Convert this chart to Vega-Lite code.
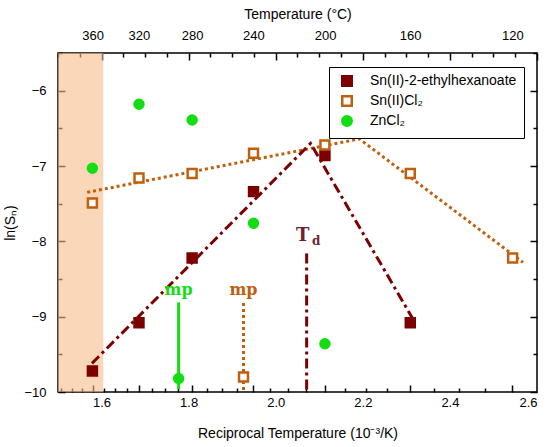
{
  "$schema": "https://vega.github.io/schema/vega-lite/v6.json",
  "width": 479,
  "height": 339,
  "autosize": {"type": "none"},
  "padding": {"left": 58, "top": 53, "right": 13, "bottom": 55},
  "background": "white",
  "datasets": {
    "points": [
      {"series": "Sn(II)-2-ethylhexanoate", "x": 1.579, "y": -9.72},
      {"series": "Sn(II)-2-ethylhexanoate", "x": 1.686, "y": -9.08},
      {"series": "Sn(II)-2-ethylhexanoate", "x": 1.808, "y": -8.22},
      {"series": "Sn(II)-2-ethylhexanoate", "x": 1.949, "y": -7.34},
      {"series": "Sn(II)-2-ethylhexanoate", "x": 2.113, "y": -6.86},
      {"series": "Sn(II)-2-ethylhexanoate", "x": 2.309, "y": -9.08},
      {"series": "Sn(II)Cl₂", "x": 1.579, "y": -7.49},
      {"series": "Sn(II)Cl₂", "x": 1.686, "y": -7.16},
      {"series": "Sn(II)Cl₂", "x": 1.808, "y": -7.10},
      {"series": "Sn(II)Cl₂", "x": 1.949, "y": -6.83},
      {"series": "Sn(II)Cl₂", "x": 2.113, "y": -6.72},
      {"series": "Sn(II)Cl₂", "x": 2.309, "y": -7.10},
      {"series": "Sn(II)Cl₂", "x": 2.544, "y": -8.22},
      {"series": "Sn(II)Cl₂", "x": 1.926, "y": -9.80},
      {"series": "ZnCl₂", "x": 1.579, "y": -7.03},
      {"series": "ZnCl₂", "x": 1.686, "y": -6.18},
      {"series": "ZnCl₂", "x": 1.808, "y": -6.39},
      {"series": "ZnCl₂", "x": 1.949, "y": -7.76},
      {"series": "ZnCl₂", "x": 2.113, "y": -9.36},
      {"series": "ZnCl₂", "x": 1.777, "y": -9.82}
    ],
    "fitlines": [
      {"series": "Sn(II)Cl₂", "x": 1.567, "y": -7.35},
      {"series": "Sn(II)Cl₂", "x": 2.192, "y": -6.64},
      {"series": "Sn(II)Cl₂", "x": 2.568, "y": -8.28},
      {"series": "Sn(II)-2-ethylhexanoate", "x": 1.578, "y": -9.62},
      {"series": "Sn(II)-2-ethylhexanoate", "x": 2.080, "y": -6.70},
      {"series": "Sn(II)-2-ethylhexanoate", "x": 2.316, "y": -9.04}
    ],
    "markers": [
      {"name": "Td", "x": 2.071, "y": -8.16, "y2": -10},
      {"name": "mpZn", "x": 1.777, "y": -8.81, "y2": -9.96},
      {"name": "mpSn", "x": 1.926, "y": -8.82, "y2": -10}
    ],
    "notes": [
      {"name": "mpZn", "label": "mp", "x": 1.777, "y": -8.65},
      {"name": "mpSn", "label": "mp", "x": 1.926, "y": -8.65},
      {"name": "T", "label": "T", "x": 2.062, "y": -7.93},
      {"name": "d", "label": "d", "x": 2.093, "y": -7.99}
    ],
    "frame": [{"from": 1.5, "to": 1.604, "low": -10, "high": -5.5}]
  },
  "layer": [
    {
      "data": {"name": "frame"},
      "mark": {"type": "rect", "color": "#f7bc8a", "opacity": 0.6},
      "encoding": {
        "x": {
          "field": "from",
          "type": "quantitative",
          "scale": {"domain": [1.5, 2.6], "nice": false, "zero": false},
          "axis": {
            "orient": "top",
            "title": "Temperature (°C)",
            "titleFontWeight": "normal",
            "values": [2.54356, 2.48047, 2.42043, 2.36323, 2.30867, 2.25657, 2.20677, 2.15913, 2.11349, 2.06975, 2.02778, 1.98748, 1.94875, 1.9115, 1.87565, 1.84111, 1.80783, 1.77572, 1.74474, 1.71482, 1.68591, 1.65796, 1.63092, 1.60475, 1.5794, 1.55485, 1.53104, 1.50795],
            "labelExpr": "round(1000 / datum.value - 273.15) % 40 == 0 ? format(round(1000 / datum.value - 273.15), 'd') : ''",
            "domain": false,
            "ticks": false,
            "tickSize": 0,
            "grid": true,
            "gridColor": "#000000",
            "gridWidth": 1.5,
            "gridDash": {"condition": {"test": "round(1000 / datum.value - 273.15) % 40 == 0", "value": [7, 2000]}, "value": [4, 2000]},
            "labelPadding": 11,
            "titlePadding": 8
          }
        },
        "x2": {"field": "to"},
        "y": {
          "field": "low",
          "type": "quantitative",
          "scale": {"domain": [-10, -5.5], "nice": false, "zero": false},
          "axis": {
            "orient": "right",
            "title": null,
            "labels": false,
            "domain": false,
            "ticks": false,
            "tickSize": 0,
            "values": [-10, -9.5, -9, -8.5, -8, -7.5, -7, -6.5, -6, -5.5],
            "grid": true,
            "gridColor": "#000000",
            "gridWidth": 1.5,
            "gridDash": {"condition": {"test": "datum.value % 1 == 0", "value": [7, 2000]}, "value": [4, 2000]}
          }
        },
        "y2": {"field": "high"}
      }
    },
    {
      "data": {"name": "fitlines"},
      "transform": [{"filter": "datum.series == 'Sn(II)Cl₂'"}],
      "mark": {"type": "line", "color": "#c0600e", "strokeWidth": 3, "strokeDash": [3, 3]},
      "encoding": {
        "x": {
          "field": "x",
          "type": "quantitative",
          "scale": {"domain": [1.5, 2.6], "nice": false, "zero": false},
          "axis": {
            "orient": "bottom",
            "title": "Reciprocal Temperature (10⁻³/K)",
            "titleFontWeight": "normal",
            "values": [1.5, 1.55, 1.6, 1.65, 1.7, 1.75, 1.8, 1.85, 1.9, 1.95, 2.0, 2.05, 2.1, 2.15, 2.2, 2.25, 2.3, 2.35, 2.4, 2.45, 2.5, 2.55, 2.6],
            "labelExpr": "abs(datum.value * 5 - round(datum.value * 5)) < 0.001 ? format(datum.value, '.1f') : ''",
            "domain": false,
            "ticks": false,
            "tickSize": 0,
            "grid": true,
            "gridColor": "#000000",
            "gridWidth": 1.5,
            "gridDash": {"condition": {"test": "abs(datum.value * 5 - round(datum.value * 5)) < 0.001", "value": [7, 2000]}, "value": [4, 2000]},
            "labelPadding": 4,
            "titlePadding": 17
          }
        },
        "y": {
          "field": "y",
          "type": "quantitative",
          "scale": {"domain": [-10, -5.5], "nice": false, "zero": false},
          "axis": {
            "orient": "left",
            "title": "ln(Sₙ)",
            "titleFontWeight": "normal",
            "values": [-10, -9.5, -9, -8.5, -8, -7.5, -7, -6.5, -6, -5.5],
            "labelExpr": "datum.value % 1 == 0 ? format(datum.value, 'd') : ''",
            "domain": false,
            "ticks": false,
            "tickSize": 0,
            "grid": true,
            "gridColor": "#000000",
            "gridWidth": 1.5,
            "gridDash": {"condition": {"test": "datum.value % 1 == 0", "value": [7, 2000]}, "value": [4, 2000]},
            "labelPadding": 12,
            "titlePadding": 6
          }
        }
      }
    },
    {
      "data": {"name": "fitlines"},
      "transform": [{"filter": "datum.series == 'Sn(II)-2-ethylhexanoate'"}],
      "mark": {"type": "line", "color": "#7d0000", "strokeWidth": 3, "strokeDash": [10, 4, 3, 4]},
      "encoding": {
        "x": {"field": "x", "type": "quantitative", "scale": {"domain": [1.5, 2.6], "nice": false, "zero": false}, "axis": null},
        "y": {"field": "y", "type": "quantitative", "scale": {"domain": [-10, -5.5], "nice": false, "zero": false}, "axis": null}
      }
    },
    {
      "data": {"name": "markers"},
      "transform": [{"filter": "datum.name == 'Td'"}],
      "mark": {"type": "rule", "color": "#7d0000", "strokeWidth": 3, "strokeDash": [10, 4, 3, 4]},
      "encoding": {
        "x": {"field": "x", "type": "quantitative", "scale": {"domain": [1.5, 2.6], "nice": false, "zero": false}, "axis": null},
        "y": {"field": "y", "type": "quantitative", "scale": {"domain": [-10, -5.5], "nice": false, "zero": false}, "axis": null},
        "y2": {"field": "y2"}
      }
    },
    {
      "data": {"name": "markers"},
      "transform": [{"filter": "datum.name == 'mpZn'"}],
      "mark": {"type": "rule", "color": "#13dd13", "strokeWidth": 3},
      "encoding": {
        "x": {"field": "x", "type": "quantitative", "scale": {"domain": [1.5, 2.6], "nice": false, "zero": false}, "axis": null},
        "y": {"field": "y", "type": "quantitative", "scale": {"domain": [-10, -5.5], "nice": false, "zero": false}, "axis": null},
        "y2": {"field": "y2"}
      }
    },
    {
      "data": {"name": "markers"},
      "transform": [{"filter": "datum.name == 'mpSn'"}],
      "mark": {"type": "rule", "color": "#c0600e", "strokeWidth": 3, "strokeDash": [3, 3]},
      "encoding": {
        "x": {"field": "x", "type": "quantitative", "scale": {"domain": [1.5, 2.6], "nice": false, "zero": false}, "axis": null},
        "y": {"field": "y", "type": "quantitative", "scale": {"domain": [-10, -5.5], "nice": false, "zero": false}, "axis": null},
        "y2": {"field": "y2"}
      }
    },
    {
      "data": {"name": "points"},
      "mark": {"type": "point", "size": 80, "strokeWidth": 2.5, "opacity": 1, "fillOpacity": 1},
      "encoding": {
        "x": {"field": "x", "type": "quantitative", "scale": {"domain": [1.5, 2.6], "nice": false, "zero": false}, "axis": null},
        "y": {"field": "y", "type": "quantitative", "scale": {"domain": [-10, -5.5], "nice": false, "zero": false}, "axis": null},
        "fill": {
          "field": "series",
          "type": "nominal",
          "scale": {"domain": ["Sn(II)-2-ethylhexanoate", "Sn(II)Cl₂", "ZnCl₂"], "range": ["#7d0000", "#ffffff", "#13dd13"]},
          "legend": {
            "title": null,
            "orient": "none",
            "legendX": 271,
            "legendY": 14,
            "padding": 7,
            "symbolOffset": 4,
            "strokeColor": "#000000",
            "fillColor": "#ffffff",
            "labelFontSize": 14,
            "labelFont": "Liberation Sans",
            "labelOffset": 16,
            "rowPadding": 0,
            "symbolSize": 90,
            "symbolStrokeWidth": 2.5
          }
        },
        "stroke": {
          "field": "series",
          "type": "nominal",
          "scale": {"domain": ["Sn(II)-2-ethylhexanoate", "Sn(II)Cl₂", "ZnCl₂"], "range": ["#7d0000", "#c0600e", "#13dd13"]}
        },
        "shape": {
          "field": "series",
          "type": "nominal",
          "scale": {"domain": ["Sn(II)-2-ethylhexanoate", "Sn(II)Cl₂", "ZnCl₂"], "range": ["square", "square", "circle"]}
        }
      }
    },
    {
      "data": {"name": "notes"},
      "transform": [{"filter": "datum.name == 'mpZn'"}],
      "mark": {"type": "text", "color": "#13dd13", "font": "DejaVu Serif", "fontWeight": "bold", "fontSize": 16},
      "encoding": {
        "x": {"field": "x", "type": "quantitative", "scale": {"domain": [1.5, 2.6], "nice": false, "zero": false}, "axis": null},
        "y": {"field": "y", "type": "quantitative", "scale": {"domain": [-10, -5.5], "nice": false, "zero": false}, "axis": null},
        "text": {"field": "label"}
      }
    },
    {
      "data": {"name": "notes"},
      "transform": [{"filter": "datum.name == 'mpSn'"}],
      "mark": {"type": "text", "color": "#c0600e", "font": "DejaVu Serif", "fontWeight": "bold", "fontSize": 16},
      "encoding": {
        "x": {"field": "x", "type": "quantitative", "scale": {"domain": [1.5, 2.6], "nice": false, "zero": false}, "axis": null},
        "y": {"field": "y", "type": "quantitative", "scale": {"domain": [-10, -5.5], "nice": false, "zero": false}, "axis": null},
        "text": {"field": "label"}
      }
    },
    {
      "data": {"name": "notes"},
      "transform": [{"filter": "datum.name == 'T'"}],
      "mark": {"type": "text", "color": "#6e2230", "font": "DejaVu Serif", "fontWeight": "bold", "fontSize": 18},
      "encoding": {
        "x": {"field": "x", "type": "quantitative", "scale": {"domain": [1.5, 2.6], "nice": false, "zero": false}, "axis": null},
        "y": {"field": "y", "type": "quantitative", "scale": {"domain": [-10, -5.5], "nice": false, "zero": false}, "axis": null},
        "text": {"field": "label"}
      }
    },
    {
      "data": {"name": "notes"},
      "transform": [{"filter": "datum.name == 'd'"}],
      "mark": {"type": "text", "color": "#6e2230", "font": "DejaVu Serif", "fontWeight": "bold", "fontSize": 12},
      "encoding": {
        "x": {"field": "x", "type": "quantitative", "scale": {"domain": [1.5, 2.6], "nice": false, "zero": false}, "axis": null},
        "y": {"field": "y", "type": "quantitative", "scale": {"domain": [-10, -5.5], "nice": false, "zero": false}, "axis": null},
        "text": {"field": "label"}
      }
    }
  ],
  "resolve": {"scale": {"x": "independent", "y": "independent"}},
  "config": {
    "view": {"stroke": "#000000", "strokeWidth": 1.5},
    "axis": {
      "grid": false,
      "labelFont": "Liberation Sans",
      "labelFontSize": 13,
      "titleFont": "Liberation Sans",
      "titleFontSize": 14
    },
    "legend": {"symbolType": "square"}
  }
}
